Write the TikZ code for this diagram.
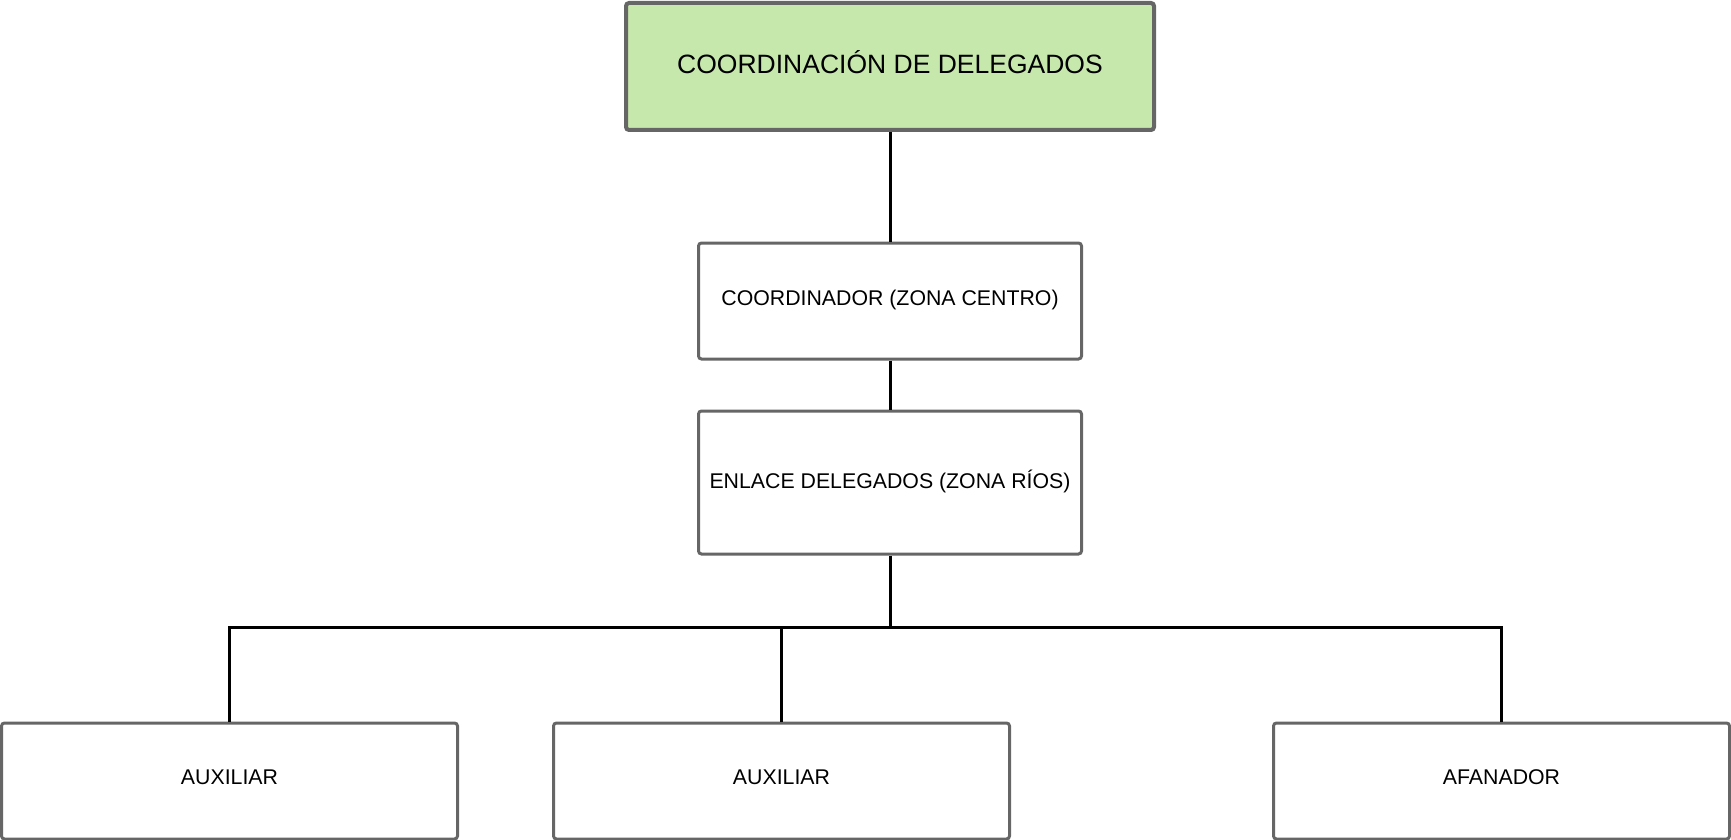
\documentclass[tikz,border=0pt]{standalone}
\usepackage{fontspec}
\setmainfont{Liberation Sans}
\definecolor{boxgreen}{RGB}{199,232,172}
\definecolor{boxgray}{RGB}{102,102,102}
\begin{document}
\begin{tikzpicture}[x=1pt,y=-1pt,
  orgbox/.style={draw=boxgray, line width=3pt, rounded corners=3pt, fill=white,
    inner sep=0pt, font=\fontsize{21.3}{25}\selectfont, text depth=7pt},
  topbox/.style={orgbox, fill=boxgreen, line width=4pt, font=\fontsize{26.5}{30}\selectfont, text depth=8pt},
  link/.style={draw=black, line width=3pt}]
\useasboundingbox (0,0) rectangle (1731,840);
\node[topbox, minimum width=528pt, minimum height=127pt] (top) at (890,66.5) {COORDINACIÓN DE DELEGADOS};
\node[orgbox, minimum width=383pt, minimum height=116pt] (coord) at (890,301) {COORDINADOR (ZONA CENTRO)};
\node[orgbox, minimum width=383pt, minimum height=143pt] (enlace) at (890,482.5) {ENLACE DELEGADOS (ZONA RÍOS)};
\node[orgbox, minimum width=456pt, minimum height=116pt] (aux1) at (229.5,781) {AUXILIAR};
\node[orgbox, minimum width=456pt, minimum height=116pt] (aux2) at (781.5,781) {AUXILIAR};
\node[orgbox, minimum width=456pt, minimum height=116pt] (afa) at (1501.5,781) {AFANADOR};
\coordinate (j) at (890,627);
\draw[link] (top.south) -- (coord.north);
\draw[link] (coord.south) -- (enlace.north);
\draw[link] (enlace.south) -- (j);
\draw[link] (aux1.north) |- (j);
\draw[link] (afa.north) |- (j);
\draw[link] (aux2.north) -- (aux2.north |- j);
\end{tikzpicture}
\end{document}
